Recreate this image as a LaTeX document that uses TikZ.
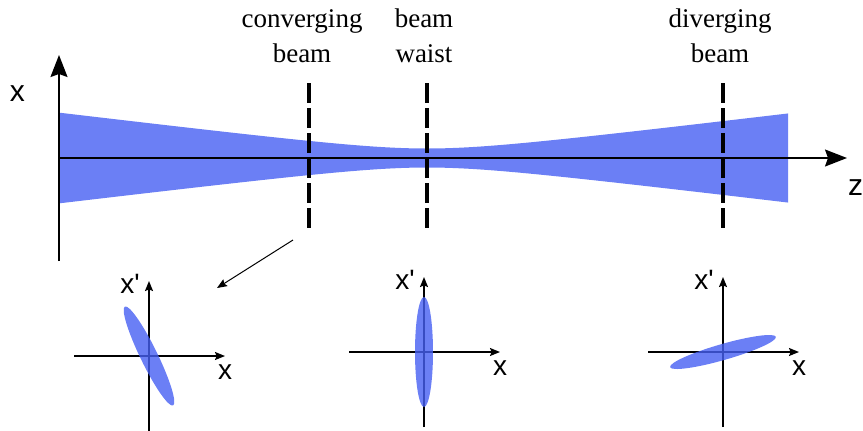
\documentclass[tikz,border=0pt]{standalone}
\usepackage{fontspec}
\setmainfont{Liberation Serif}
\newfontfamily\axisfont{Liberation Sans}
\usetikzlibrary{arrows.meta}
\definecolor{beamblue}{RGB}{107,127,245}
\definecolor{spotblue}{RGB}{70,95,243}

\tikzset{
  mainaxis/.style={line width=0.8pt, -{Stealth[length=11pt, width=8.5pt, inset=1.5pt]}},
  phaseaxis/.style={line width=0.75pt, -{Stealth[length=5pt, width=4pt, inset=0.8pt]}},
  cutline/.style={line width=1.8pt, dash pattern=on 10pt off 2.5pt},
  caption/.style={font=\fontsize{13.5}{17.5}\selectfont, align=center, inner sep=0pt},
  axislabel/.style={font=\axisfont\fontsize{15}{18}\selectfont, inner sep=0pt, anchor=base},
  phaselabel/.style={font=\axisfont\fontsize{14}{17}\selectfont, inner sep=0pt, anchor=base},
  spot/.style={fill=spotblue, fill opacity=0.8}
}

\begin{document}
\begin{tikzpicture}[x=0.5pt, y=-0.5pt]
\useasboundingbox (0,0) rectangle (863,430);

% beam envelope
\fill[beamblue] plot[domain=58:788, samples=150] (\x, {158-9.5*sqrt(1+((\x-427)/78.8)^2)})
  -- plot[domain=788:58, samples=150] (\x, {158+9.5*sqrt(1+((\x-427)/78.8)^2)}) -- cycle;

% main axes
\coordinate (xbot) at (59,261);
\coordinate (xtip) at (59,55);
\coordinate (zstart) at (58,158);
\coordinate (ztip) at (847,158);
\draw[mainaxis] (xbot) -- (xtip);
\draw[mainaxis] (zstart) -- (ztip);
\node[axislabel] (xlab) at (17.5,101) {x};
\node[axislabel] (zlab) at (855.5,195) {z};

% cut planes
\foreach \px/\name in {309/conv, 427/waist, 723/div} {
  \coordinate (\name top) at (\px,83);
  \coordinate (\name bot) at (\px,233);
  \draw[cutline] (\name top) -- (\name bot);
}
\node[caption, anchor=south] (convtext) at (302,63) {converging\\beam};
\node[caption, anchor=south] (waisttext) at (424,63) {beam\\waist};
\node[caption, anchor=south] (divtext) at (720,63) {diverging\\beam};

% pointer to phase space
\coordinate (pstart) at (293,240);
\coordinate (pend) at (217,288);
\draw[line width=0.5pt, -{Stealth[length=5pt, width=4pt, inset=0.8pt]}] (pstart) -- (pend);

% phase space ellipses
\foreach \ox/\oy/\ang/\rb/\name in {149/356/-64/4.3/conv, 424/352/90/4.5/waist, 723/352/16/4/div} {
  \begin{scope}[shift={(\ox,\oy)}]
    \coordinate (\name o) at (0,0);
    \coordinate (\name left) at (-75,0);
    \coordinate (\name right) at (76,0);
    \coordinate (\name down) at (0,75);
    \coordinate (\name up) at (0,-75);
    \draw[phaseaxis] (\name left) -- (\name right);
    \draw[phaseaxis] (\name down) -- (\name up);
    \fill[spot, rotate=\ang] (\name o) ellipse [x radius=27.5pt, y radius=\rb pt];
    \node[phaselabel] (\name xp) at (-19,-63) {x'};
    \node[phaselabel] (\name xl) at (76,23) {x};
  \end{scope}
}
\end{tikzpicture}
\end{document}
